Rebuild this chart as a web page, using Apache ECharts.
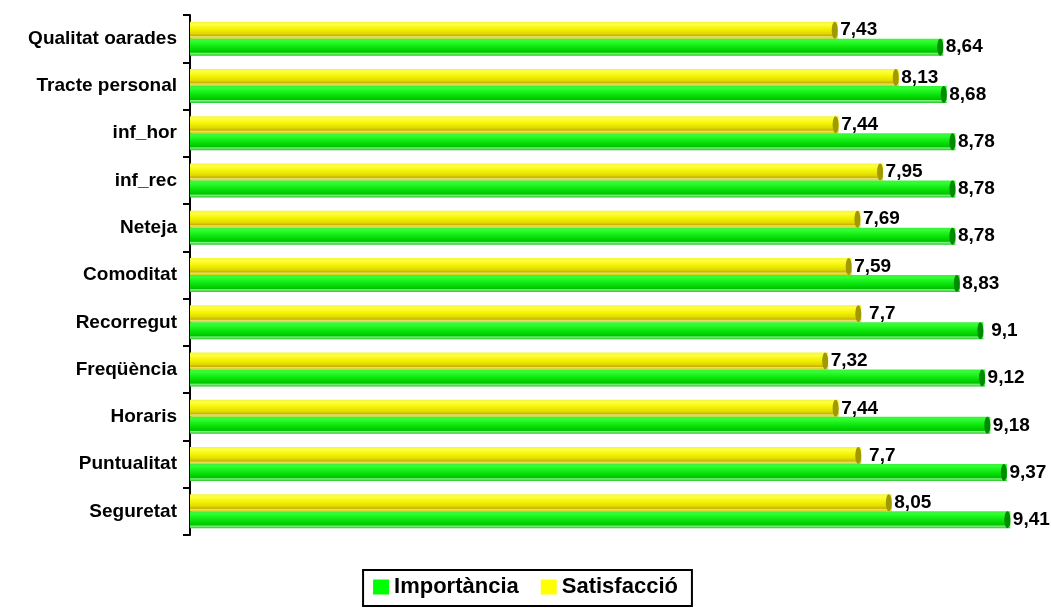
<!DOCTYPE html>
<html><head><meta charset="utf-8">
<script src="https://cdn.jsdelivr.net/npm/echarts@6/dist/echarts.min.js"></script>
<style>html,body{margin:0;padding:0;background:#fff}#c{width:1051px;height:608px}</style>
</head><body><div id="c"></div>
<script>
const categories = ['Qualitat oarades','Tracte personal','inf_hor','inf_rec','Neteja','Comoditat','Recorregut','Freqüència','Horaris','Puntualitat','Seguretat'];
const importancia = [8.64, 8.68, 8.78, 8.78, 8.78, 8.83, 9.1, 9.12, 9.18, 9.37, 9.41];
const satisfaccio = [7.43, 8.13, 7.44, 7.95, 7.69, 7.59, 7.7, 7.32, 7.44, 7.7, 8.05];
const seriesNames = ['Importància', 'Satisfacció'];

const FONT = 'Liberation Sans, Arial, sans-serif';
const fmt = p => String(p.value).replace('.', ',');
function grad(stops){ return new echarts.graphic.LinearGradient(0,0,0,1, stops.map(s=>({offset:s[0], color:s[1]}))); }
const yellowGrad = grad([[0,'#f4f43a'],[0.15,'#ffff40'],[0.45,'#f2f200'],[0.7,'#e0d800'],[0.82,'#c8b000'],[0.88,'#e8e070'],[1,'#d8d000']]);
const greenGrad = grad([[0,'#40f040'],[0.15,'#30ff30'],[0.45,'#10e810'],[0.7,'#00d000'],[0.8,'#00c000'],[0.86,'#80f080'],[1,'#20c820']]);
const BW = 17;
const chart = echarts.init(document.getElementById('c'), null, {renderer:'canvas'});
const lbl = {show:true, position:'right', distance:21, align:'center', formatter:fmt, color:'#000', fontSize:19, fontWeight:'bold', fontFamily:FONT};
chart.setOption({
  animation:false,
  grid:{left:190, right:11, top:15, bottom:73, containLabel:false},
  xAxis:{type:'value', min:0, max:9.75, show:false, splitLine:{show:false}},
  yAxis:{type:'category', data:categories, inverse:true,
    axisLine:{show:true, lineStyle:{color:'#000', width:2}},
    axisTick:{show:true, length:7, lineStyle:{color:'#000', width:2}},
    axisLabel:{color:'#000', fontSize:19, fontWeight:'bold', fontFamily:FONT, margin:13}},
  legend:{data:[{name:seriesNames[0], itemStyle:{color:'#00ff00'}}, {name:seriesNames[1], itemStyle:{color:'#ffff00'}}],
    top:570, left:'center', itemWidth:16, itemHeight:15, itemGap:22,
    icon:'rect', borderColor:'#000', borderWidth:2, padding:[6,14,8,10],
    textStyle:{color:'#000', fontSize:22, fontWeight:'bold', fontFamily:FONT}},
  series:[
    {name:seriesNames[1], type:'bar', data:satisfaccio, barWidth:BW, barGap:'0%', color:'#ffff00',
      itemStyle:{color:yellowGrad}, label:lbl, z:2},
    {name:seriesNames[0], type:'bar', data:importancia, barWidth:BW, barGap:'0%', color:'#00ff00',
      itemStyle:{color:greenGrad}, label:lbl, z:2},
    {name:'capS', type:'pictorialBar', data:satisfaccio, barWidth:BW, barGap:'0%', symbol:'circle',
      symbolSize:[6, BW], symbolPosition:'end', symbolOffset:[0,0], itemStyle:{color:'#a09a00'}, z:3, silent:true},
    {name:'capI', type:'pictorialBar', data:importancia, barWidth:BW, barGap:'0%', symbol:'circle',
      symbolSize:[6, BW], symbolPosition:'end', symbolOffset:[0,0], itemStyle:{color:'#008a00'}, z:3, silent:true}
  ]
});
</script></body></html>
